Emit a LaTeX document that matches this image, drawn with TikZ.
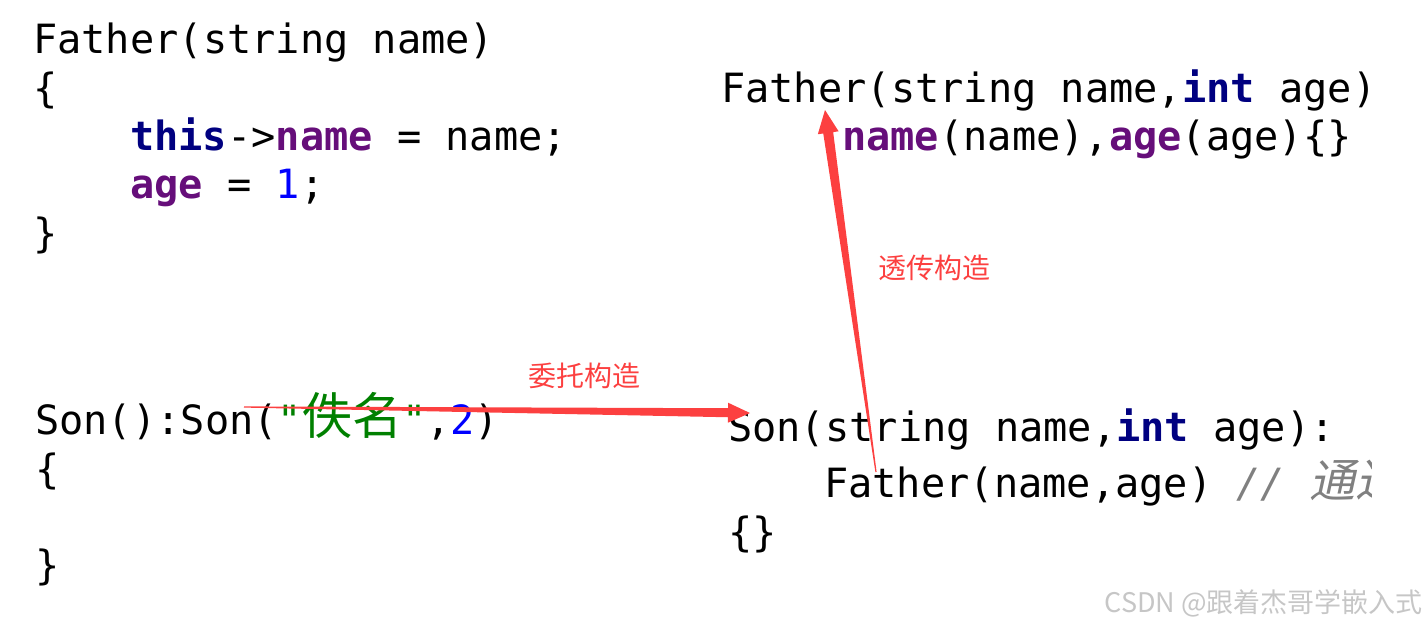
\documentclass[tikz,border=0pt]{standalone}
\usepackage{fontspec}
\usetikzlibrary{calc}
\setmonofont{DejaVu Sans Mono}
\newfontfamily\cjk{Noto Sans CJK SC}
\newfontfamily\cjkit[FakeSlant=0.22]{Noto Sans CJK SC}
\definecolor{kwnavy}{RGB}{0,0,128}
\definecolor{fieldpurple}{RGB}{102,14,122}
\definecolor{numblue}{RGB}{0,0,255}
\definecolor{strgreen}{RGB}{0,128,0}
\definecolor{cmtgray}{RGB}{128,128,128}
\definecolor{arrowred}{RGB}{252,64,64}
\definecolor{wmgray}{RGB}{198,198,198}
\newcommand\kw[1]{\textcolor{kwnavy}{\bfseries #1}}
\newcommand\fld[1]{\textcolor{fieldpurple}{\bfseries #1}}
\newcommand\numlit[1]{\textcolor{numblue}{#1}}
\newcommand\codefont{\ttfamily\fontsize{40.3}{41}\selectfont}
% tapered arrow: #1 tail, #2 tip, #3 tail half width, #4 shaft half width, #5 head length, #6 head half width
\newcommand\taperarrow[6]{%
  \coordinate (#1-#2-h) at ($(#2)!#5!(#1)$);
  \fill[arrowred] ($(#1)!#3!90:(#2)$) -- ($(#1-#2-h)!#4!-90:(#1)$) -- ($(#1-#2-h)!#6!-90:(#1)$)
    -- (#2) -- ($(#1-#2-h)!#6!90:(#1)$) -- ($(#1-#2-h)!#4!90:(#1)$) -- ($(#1)!#3!-90:(#2)$) -- cycle;}
\tikzset{
  code/.style={anchor=base west, inner sep=0pt, font=\codefont},
  lbl/.style={inner sep=0pt, text=arrowred, font=\cjk\fontsize{28}{28}\selectfont},
  wm/.style={anchor=base east, inner sep=0pt, text=wmgray, font=\cjk\fontsize{27}{27}\selectfont}
}
\begin{document}
\begin{tikzpicture}[x=1pt,y=-1pt]
\useasboundingbox (0,0) rectangle (1428,630);
% left top block
\node[code] (f1) at (33,53) {Father(string name)};
\node[code] (f2) at (33,102) {\{};
\node[code] (f3) at (130,150) {\kw{this}->\fld{name} = name;};
\node[code] (f4) at (130,198) {\fld{age} = \numlit{1};};
\node[code] (f5) at (33,247) {\}};
% left bottom block
\node[code] (s1) at (35,434) {Son():Son(\textcolor{strgreen}{"{\cjk\fontsize{50}{50}\selectfont 佚名}"},\numlit{2})};
\node[code] (s2) at (35,483) {\{};
\node[code] (s4) at (35,579) {\}};
% right top block
\node[code] (g1) at (721,102) {Father(string name,\kw{int} age)};
\node[code] (g2) at (842,150) {\fld{name}(name),\fld{age}(age)\{\}};
% right bottom block
\node[code] (t1) at (728,441) {Son(string name,\kw{int} age):};
\begin{scope}
\clip (0,0) rectangle (1371,630);
\node[code] (t2) at (824,497) {Father(name,age) \textcolor{cmtgray}{\itshape // {\cjkit\fontsize{46}{46}\selectfont 通过}}};
\end{scope}
\node[code] (t3) at (728,546) {\{\}};
% labels
\node[lbl] (l1) at (584,376) {委托构造};
\node[lbl] (l2) at (934,268) {透传构造};
% arrows
\coordinate (a1) at (244,407);
\coordinate (b1) at (750,413);
\coordinate (a2) at (876,472);
\coordinate (b2) at (825,110);
\taperarrow{a1}{b1}{0.6pt}{4.5pt}{22pt}{10pt}
\taperarrow{a2}{b2}{0.6pt}{5pt}{23pt}{10.5pt}
% watermark
\node[wm] (w) at (1423,612) {CSDN @跟着杰哥学嵌入式};
\end{tikzpicture}
\end{document}
